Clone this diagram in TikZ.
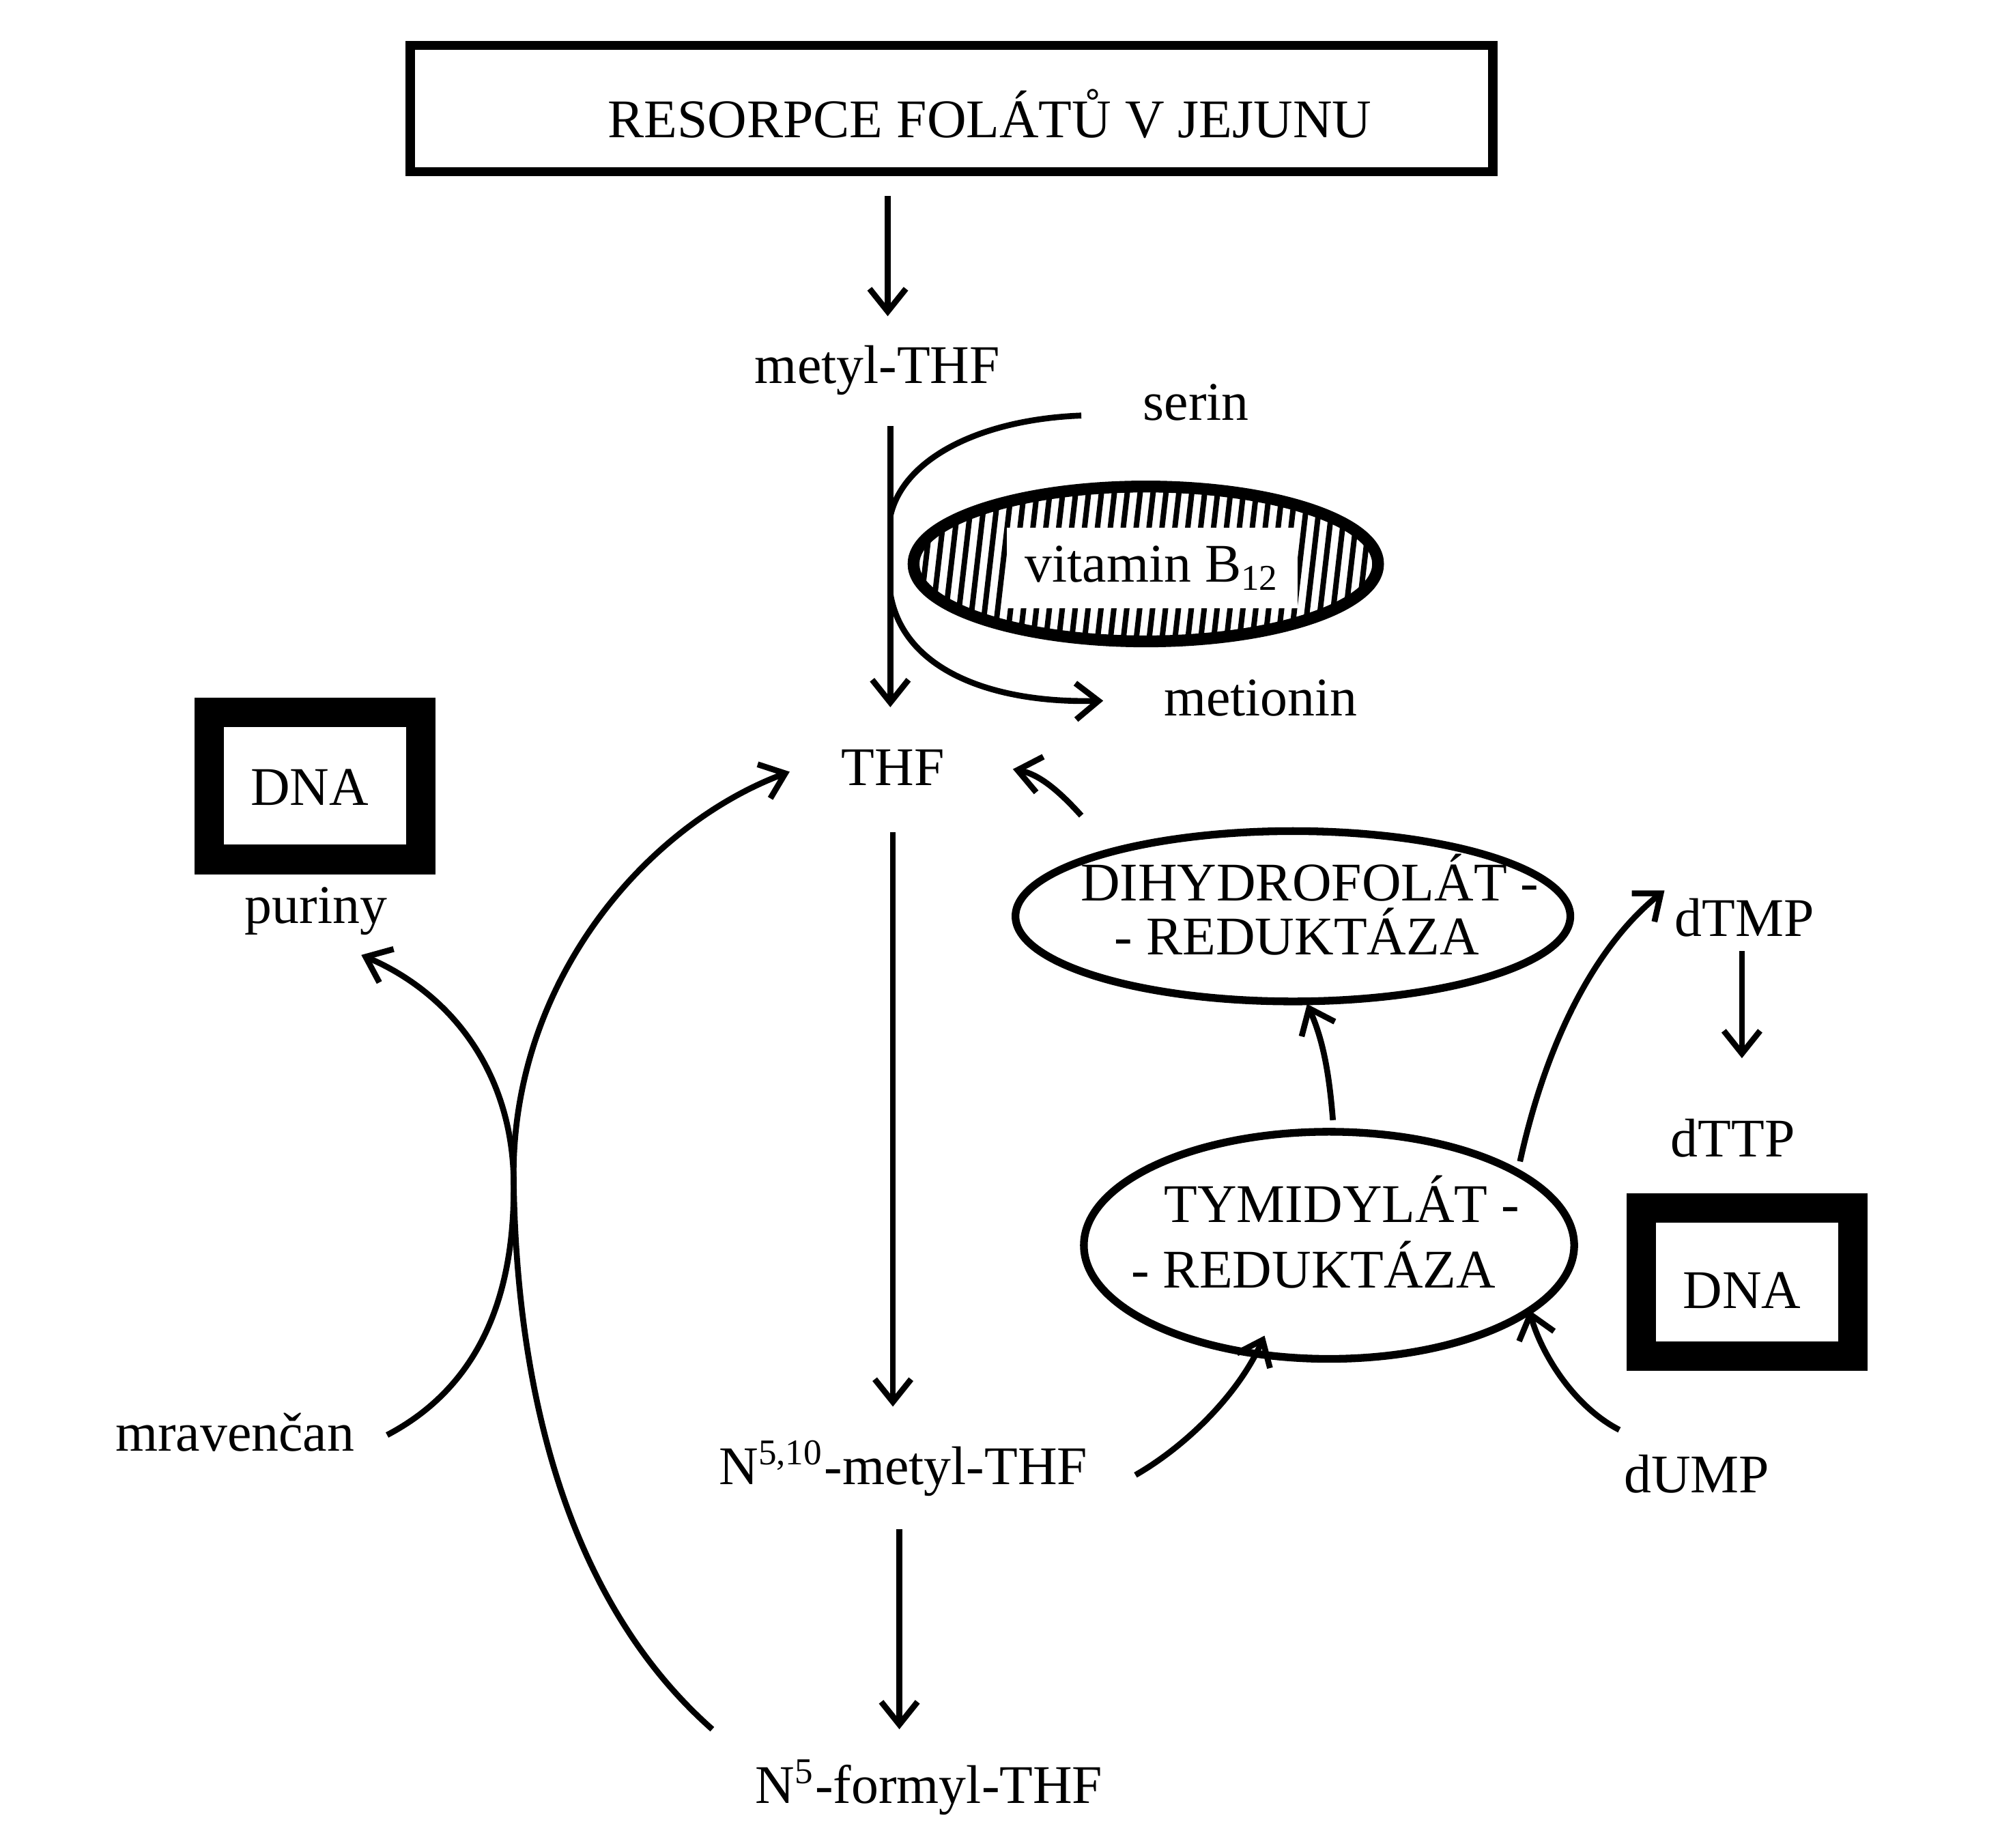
\documentclass[tikz,border=0pt]{standalone}
\usepackage{fontspec}
\setmainfont{Liberation Serif}
\usetikzlibrary{arrows.meta}
\begin{document}
\begin{tikzpicture}[x=0.01cm,y=-0.01cm,
  lbl/.style={font=\fontsize{12}{14}\selectfont, inner sep=1pt},
  ar/.style={line width=1.3pt,-{Straight Barb[length=5pt,width=8pt]}},
  ln/.style={line width=1.3pt},
  ell/.style={line width=1.7pt}]
\useasboundingbox (0,0) rectangle (1550,1432);
% top box
\draw[line width=2pt] (318,35) rectangle (1157,133);
\node[lbl] (top) at (767,88) {RESORPCE FOLÁTŮ V JEJUNU};
\node[lbl] (mthf) at (680,287) {metyl-THF};
\draw[ar] (688,152) -- (688,245);
\node[lbl] (serin) at (927,312) {serin};
\node[lbl] (met) at (977,541) {metionin};
\node[lbl] (thf) at (692,595) {THF};
\coordinate (a1) at (690,330);
\draw[ar] (a1) -- (690,548);
\draw[ln] (838,322) .. controls (760,325) and (700,355) .. (690,400);
\draw[ar] (690,460) .. controls (700,520) and (770,545) .. (855,543);
% vitamin ellipse
\begin{scope}
\clip (888,437) ellipse (180 and 60);
\foreach \i in {0,...,40} {\draw[line width=1.2pt] (690+\i*10,500) -- (705+\i*10,370);}
\end{scope}
\draw[line width=2.6pt] (888,437) ellipse (180 and 60);
\node[lbl,fill=white,inner sep=4pt] (vit) at (893,440) {vitamin B\textsubscript{12}};
% DNA left
\draw[line width=6.5pt] (162,552) rectangle (326,666);
\node[lbl] (dna1) at (240,610) {DNA};
\node[lbl] (pur) at (245,706) {puriny};
\node[lbl] (n510) at (700,1138) {N\textsuperscript{5,10}-metyl-THF};
\node[lbl] (n5) at (720,1385) {N\textsuperscript{5}-formyl-THF};
\draw[ar] (692,645) -- (692,1090);
\draw[ar] (697,1185) -- (697,1340);
\node[lbl] (mrav) at (182,1110) {mravenčan};
\coordinate (c) at (398,910);
\draw[ar] (300,1112) .. controls (380,1070) and (400,990) .. (c) .. controls (395,830) and (350,770) .. (280,740);
\draw[ar] (552,1340) .. controls (450,1250) and (400,1100) .. (c) .. controls (398,760) and (500,640) .. (612,598);
% DHFR
\draw[ell,fill=white] (1002,710) ellipse (215 and 66);
\node[lbl] (dhfr1) at (1015,680) {DIHYDROFOLÁT -};
\node[lbl] (dhfr2) at (1005,722) {- REDUKTÁZA};
\draw[ar] (838,632) .. controls (820,612) and (805,600) .. (785,596);
% TS
\draw[ell,fill=white] (1030,965) ellipse (190 and 88);
\node[lbl] (ts1) at (1040,929) {TYMIDYLÁT -};
\node[lbl] (ts2) at (1018,980) {- REDUKTÁZA};
\draw[ar] (1033,868) .. controls (1030,830) and (1025,805) .. (1013,778);
\draw[ar] (1178,900) .. controls (1200,800) and (1240,730) .. (1290,690);
\node[lbl] (dtmp) at (1352,711) {dTMP};
\node[lbl] (dttp) at (1343,882) {dTTP};
\draw[ar] (1350,737) -- (1350,820);
\draw[line width=6.5pt] (1272,936) rectangle (1436,1051);
\node[lbl] (dna2) at (1350,1000) {DNA};
\node[lbl] (dump) at (1315,1142) {dUMP};
\draw[ar] (880,1143) .. controls (920,1120) and (960,1080) .. (980,1035);
\draw[ar] (1255,1108) .. controls (1220,1090) and (1195,1050) .. (1185,1015);
\end{tikzpicture}
\end{document}
